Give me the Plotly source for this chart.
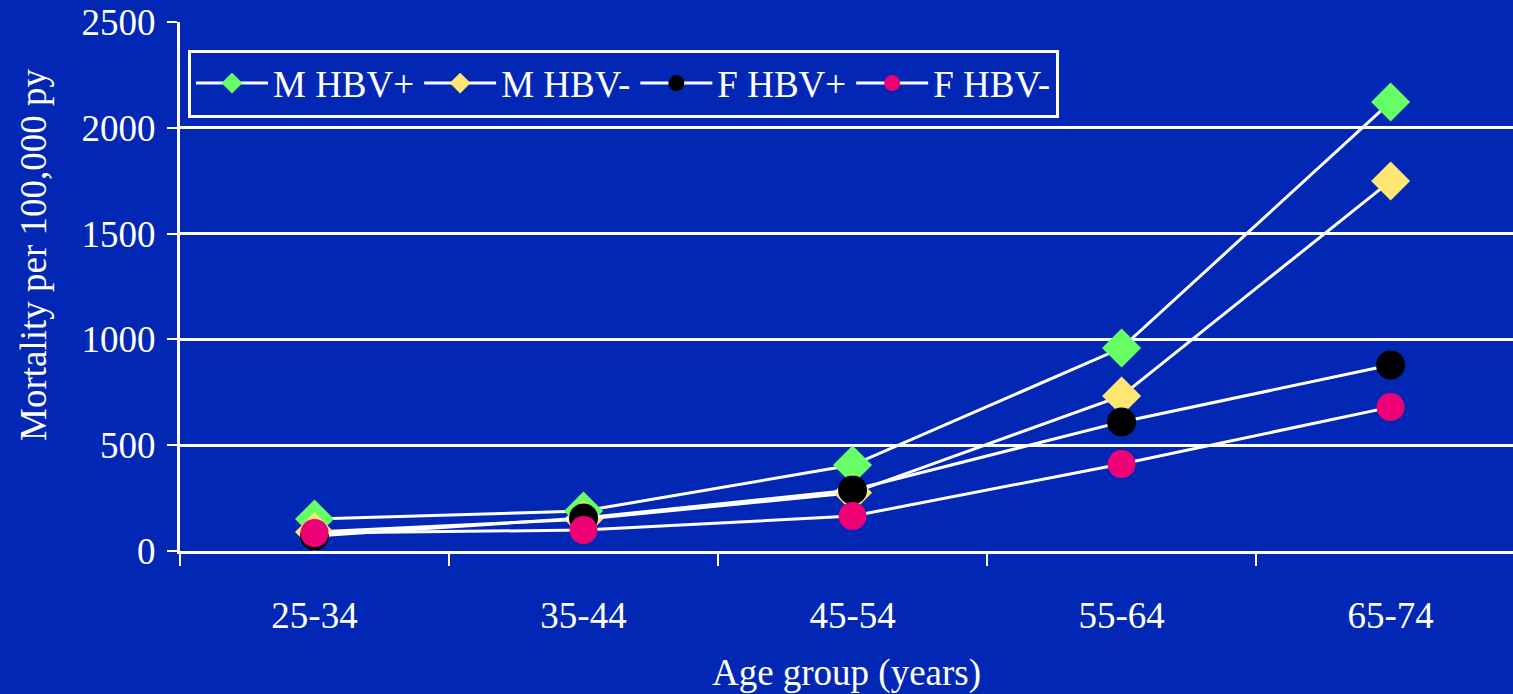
import plotly.graph_objects as go

categories = ["25-34", "35-44", "45-54", "55-64", "65-74"]
m_hbv_pos = [151, 189, 406, 959, 2122]
m_hbv_neg = [90, 150, 275, 733, 1749]
f_hbv_pos = [71, 156, 288, 610, 879]
f_hbv_neg = [85, 99, 165, 411, 680]

BG = "#0327b5"
FONT = "Liberation Serif"
FS = 37

series = [
    ("M HBV+", m_hbv_pos, "diamond", "#66ff66", 30),
    ("M HBV-", m_hbv_neg, "diamond", "#ffe673", 30),
    ("F HBV+", f_hbv_pos, "circle", "#000000", 29),
    ("F HBV-", f_hbv_neg, "circle", "#ee0077", 28),
]

fig = go.Figure()
for name, vals, sym, col, sz in series:
    fig.add_trace(go.Scatter(
        x=categories, y=vals, name=name, mode="lines+markers",
        line=dict(color="white", width=3),
        marker=dict(symbol=sym, color=col, size=sz, line=dict(width=0)),
    ))

fig.update_layout(
    width=1513, height=694,
    paper_bgcolor=BG, plot_bgcolor=BG,
    margin=dict(l=180, r=0, t=22, b=143),
    font=dict(family=FONT, color="white", size=FS),
    showlegend=True,
    legend=dict(
        orientation="h", x=0.006, y=0.948, xanchor="left", yanchor="top",
        bgcolor=BG, bordercolor="white", borderwidth=3,
        font=dict(family=FONT, size=FS, color="white"),
        itemwidth=72, tracegroupgap=0,
    ),
    xaxis=dict(
        type="category", range=[-0.5, 4.455],
        showline=True, linecolor="white", linewidth=3,
        ticks="outside", tickson="boundaries", ticklen=12, tickwidth=2, tickcolor="white",
        showgrid=False, zeroline=False, ticklabelstandoff=30,
        tickfont=dict(family=FONT, size=FS, color="white"),
        title=dict(text="Age group (years)", font=dict(family=FONT, size=FS, color="white"), standoff=29),
    ),
    yaxis=dict(
        range=[0, 2500], dtick=500,
        showline=True, linecolor="white", linewidth=3,
        ticks="outside", ticklen=10, tickwidth=2, tickcolor="white",
        showgrid=True, gridcolor="white", gridwidth=3, zeroline=False,
        ticklabelstandoff=4,
        tickfont=dict(family=FONT, size=FS, color="white"),
    ),
    annotations=[dict(
        text="Mortality per 100,000 py", textangle=-90,
        xref="paper", yref="paper", x=(33 - 180) / 1333, y=(551 - 255) / 529,
        xanchor="center", yanchor="middle", showarrow=False,
        font=dict(family=FONT, size=FS, color="white"),
    )],
)

fig.write_html(
    "out.html",
    config={"displayModeBar": False},
    post_script="document.body.style.margin='0';document.body.style.background='%s';" % BG,
)
